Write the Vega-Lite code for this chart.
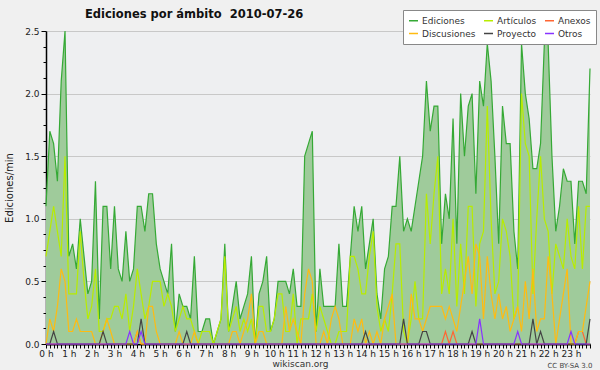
{
"$schema":"https://vega.github.io/schema/vega-lite/v6.json",
"width":544,"height":313,
"autosize":{"type":"none"},
"padding":{"left":46,"top":31,"right":10,"bottom":26},
"background":"#f0f0f0",
"title":{"text":"Ediciones por ámbito\u00a0 2010-07-26","anchor":"start","frame":"group","dx":39,"dy":20,"offset":9,"fontSize":11.5,"fontWeight":"bold","font":"DejaVu Sans","color":"#111111"},
"config":{"view":{"fill":"#eeeff1","stroke":null},"font":"DejaVu Sans"},
"data":{"values":[
{"s":0,"Ediciones":1.1,"Artículos":0.7,"Anexos":0,"Discusiones":0,"Proyecto":0,"Otros":0},
{"s":1,"Ediciones":1.7,"Artículos":0.9,"Anexos":0,"Discusiones":0.2,"Proyecto":0,"Otros":0},
{"s":2,"Ediciones":1.6,"Artículos":1.1,"Anexos":0,"Discusiones":0.1,"Proyecto":0.1,"Otros":0},
{"s":3,"Ediciones":1.3,"Artículos":0.9,"Anexos":0,"Discusiones":0.3,"Proyecto":0,"Otros":0},
{"s":4,"Ediciones":2.1,"Artículos":0.7,"Anexos":0,"Discusiones":0.6,"Proyecto":0,"Otros":0},
{"s":5,"Ediciones":2.5,"Artículos":1.5,"Anexos":0,"Discusiones":0.5,"Proyecto":0,"Otros":0},
{"s":6,"Ediciones":0.7,"Artículos":0.4,"Anexos":0,"Discusiones":0.1,"Proyecto":0,"Otros":0},
{"s":7,"Ediciones":0.8,"Artículos":0.4,"Anexos":0,"Discusiones":0.1,"Proyecto":0,"Otros":0},
{"s":8,"Ediciones":0.6,"Artículos":0.4,"Anexos":0,"Discusiones":0.2,"Proyecto":0,"Otros":0},
{"s":9,"Ediciones":1.0,"Artículos":0.9,"Anexos":0,"Discusiones":0.1,"Proyecto":0,"Otros":0},
{"s":10,"Ediciones":0.7,"Artículos":0.5,"Anexos":0,"Discusiones":0.1,"Proyecto":0,"Otros":0},
{"s":11,"Ediciones":0.4,"Artículos":0.2,"Anexos":0,"Discusiones":0.1,"Proyecto":0,"Otros":0},
{"s":12,"Ediciones":0.5,"Artículos":0.3,"Anexos":0,"Discusiones":0.1,"Proyecto":0,"Otros":0},
{"s":13,"Ediciones":1.3,"Artículos":0.6,"Anexos":0,"Discusiones":0,"Proyecto":0,"Otros":0},
{"s":14,"Ediciones":0.2,"Artículos":0.1,"Anexos":0,"Discusiones":0,"Proyecto":0,"Otros":0},
{"s":15,"Ediciones":1.1,"Artículos":0.1,"Anexos":0,"Discusiones":0.1,"Proyecto":0.1,"Otros":0},
{"s":16,"Ediciones":1.1,"Artículos":0.2,"Anexos":0,"Discusiones":0.2,"Proyecto":0,"Otros":0},
{"s":17,"Ediciones":0.6,"Artículos":0.2,"Anexos":0,"Discusiones":0.1,"Proyecto":0,"Otros":0},
{"s":18,"Ediciones":1.1,"Artículos":0.3,"Anexos":0,"Discusiones":0,"Proyecto":0,"Otros":0},
{"s":19,"Ediciones":0.6,"Artículos":0.3,"Anexos":0,"Discusiones":0,"Proyecto":0,"Otros":0},
{"s":20,"Ediciones":0.5,"Artículos":0.2,"Anexos":0,"Discusiones":0,"Proyecto":0,"Otros":0},
{"s":21,"Ediciones":0.9,"Artículos":0.4,"Anexos":0,"Discusiones":0,"Proyecto":0,"Otros":0},
{"s":22,"Ediciones":0.5,"Artículos":0.1,"Anexos":0,"Discusiones":0,"Proyecto":0,"Otros":0.1},
{"s":23,"Ediciones":0.6,"Artículos":0.3,"Anexos":0,"Discusiones":0,"Proyecto":0,"Otros":0},
{"s":24,"Ediciones":1.1,"Artículos":0.6,"Anexos":0.1,"Discusiones":0.1,"Proyecto":0,"Otros":0},
{"s":25,"Ediciones":1.1,"Artículos":0.4,"Anexos":0,"Discusiones":0,"Proyecto":0.2,"Otros":0.1},
{"s":26,"Ediciones":0.9,"Artículos":0.2,"Anexos":0,"Discusiones":0,"Proyecto":0,"Otros":0},
{"s":27,"Ediciones":1.2,"Artículos":0.3,"Anexos":0,"Discusiones":0.3,"Proyecto":0,"Otros":0},
{"s":28,"Ediciones":1.2,"Artículos":0.5,"Anexos":0,"Discusiones":0.3,"Proyecto":0,"Otros":0},
{"s":29,"Ediciones":0.8,"Artículos":0.5,"Anexos":0,"Discusiones":0.1,"Proyecto":0,"Otros":0},
{"s":30,"Ediciones":0.6,"Artículos":0.5,"Anexos":0,"Discusiones":0,"Proyecto":0,"Otros":0},
{"s":31,"Ediciones":0.5,"Artículos":0.3,"Anexos":0,"Discusiones":0,"Proyecto":0,"Otros":0},
{"s":32,"Ediciones":0.4,"Artículos":0.4,"Anexos":0,"Discusiones":0,"Proyecto":0,"Otros":0},
{"s":33,"Ediciones":0.8,"Artículos":0.3,"Anexos":0,"Discusiones":0,"Proyecto":0,"Otros":0},
{"s":34,"Ediciones":0.1,"Artículos":0.1,"Anexos":0,"Discusiones":0,"Proyecto":0,"Otros":0},
{"s":35,"Ediciones":0.4,"Artículos":0.2,"Anexos":0,"Discusiones":0.1,"Proyecto":0,"Otros":0},
{"s":36,"Ediciones":0.3,"Artículos":0.3,"Anexos":0,"Discusiones":0,"Proyecto":0,"Otros":0},
{"s":37,"Ediciones":0.3,"Artículos":0.2,"Anexos":0,"Discusiones":0,"Proyecto":0.1,"Otros":0},
{"s":38,"Ediciones":0.2,"Artículos":0.2,"Anexos":0,"Discusiones":0,"Proyecto":0,"Otros":0},
{"s":39,"Ediciones":0.7,"Artículos":0.1,"Anexos":0,"Discusiones":0.1,"Proyecto":0,"Otros":0},
{"s":40,"Ediciones":0.1,"Artículos":0,"Anexos":0,"Discusiones":0,"Proyecto":0,"Otros":0},
{"s":41,"Ediciones":0.1,"Artículos":0.1,"Anexos":0,"Discusiones":0,"Proyecto":0,"Otros":0},
{"s":42,"Ediciones":0.2,"Artículos":0.1,"Anexos":0,"Discusiones":0,"Proyecto":0,"Otros":0},
{"s":43,"Ediciones":0.2,"Artículos":0.1,"Anexos":0,"Discusiones":0,"Proyecto":0,"Otros":0},
{"s":44,"Ediciones":0,"Artículos":0,"Anexos":0,"Discusiones":0,"Proyecto":0,"Otros":0},
{"s":45,"Ediciones":0.1,"Artículos":0.1,"Anexos":0,"Discusiones":0,"Proyecto":0,"Otros":0},
{"s":46,"Ediciones":0.2,"Artículos":0.2,"Anexos":0,"Discusiones":0,"Proyecto":0,"Otros":0},
{"s":47,"Ediciones":0.8,"Artículos":0.7,"Anexos":0,"Discusiones":0,"Proyecto":0,"Otros":0},
{"s":48,"Ediciones":0.1,"Artículos":0.1,"Anexos":0,"Discusiones":0,"Proyecto":0,"Otros":0},
{"s":49,"Ediciones":0.3,"Artículos":0.2,"Anexos":0,"Discusiones":0.1,"Proyecto":0,"Otros":0},
{"s":50,"Ediciones":0.5,"Artículos":0.3,"Anexos":0,"Discusiones":0.1,"Proyecto":0,"Otros":0},
{"s":51,"Ediciones":0.2,"Artículos":0.1,"Anexos":0,"Discusiones":0,"Proyecto":0,"Otros":0},
{"s":52,"Ediciones":0.3,"Artículos":0.2,"Anexos":0,"Discusiones":0.1,"Proyecto":0,"Otros":0},
{"s":53,"Ediciones":0.4,"Artículos":0.1,"Anexos":0,"Discusiones":0.2,"Proyecto":0,"Otros":0},
{"s":54,"Ediciones":0.7,"Artículos":0.2,"Anexos":0,"Discusiones":0.4,"Proyecto":0,"Otros":0},
{"s":55,"Ediciones":0,"Artículos":0,"Anexos":0,"Discusiones":0,"Proyecto":0,"Otros":0},
{"s":56,"Ediciones":0.4,"Artículos":0.3,"Anexos":0,"Discusiones":0.1,"Proyecto":0,"Otros":0},
{"s":57,"Ediciones":0.5,"Artículos":0.3,"Anexos":0,"Discusiones":0.1,"Proyecto":0,"Otros":0},
{"s":58,"Ediciones":0.7,"Artículos":0.1,"Anexos":0,"Discusiones":0,"Proyecto":0,"Otros":0},
{"s":59,"Ediciones":0.1,"Artículos":0.1,"Anexos":0,"Discusiones":0,"Proyecto":0,"Otros":0},
{"s":60,"Ediciones":0.2,"Artículos":0.2,"Anexos":0,"Discusiones":0,"Proyecto":0,"Otros":0},
{"s":61,"Ediciones":0.5,"Artículos":0.4,"Anexos":0,"Discusiones":0,"Proyecto":0,"Otros":0},
{"s":62,"Ediciones":0.5,"Artículos":0.4,"Anexos":0,"Discusiones":0,"Proyecto":0,"Otros":0},
{"s":63,"Ediciones":0.5,"Artículos":0.1,"Anexos":0,"Discusiones":0.3,"Proyecto":0,"Otros":0},
{"s":64,"Ediciones":0.4,"Artículos":0.1,"Anexos":0,"Discusiones":0.1,"Proyecto":0,"Otros":0},
{"s":65,"Ediciones":0.6,"Artículos":0.4,"Anexos":0,"Discusiones":0.2,"Proyecto":0,"Otros":0},
{"s":66,"Ediciones":0.3,"Artículos":0,"Anexos":0,"Discusiones":0.1,"Proyecto":0,"Otros":0},
{"s":67,"Ediciones":0.3,"Artículos":0.2,"Anexos":0,"Discusiones":0,"Proyecto":0,"Otros":0},
{"s":68,"Ediciones":1.5,"Artículos":0.2,"Anexos":0,"Discusiones":0.4,"Proyecto":0,"Otros":0},
{"s":69,"Ediciones":1.6,"Artículos":0.2,"Anexos":0,"Discusiones":0.6,"Proyecto":0,"Otros":0},
{"s":70,"Ediciones":1.7,"Artículos":0.4,"Anexos":0,"Discusiones":0.5,"Proyecto":0,"Otros":0},
{"s":71,"Ediciones":0.1,"Artículos":0.1,"Anexos":0,"Discusiones":0,"Proyecto":0,"Otros":0},
{"s":72,"Ediciones":0.6,"Artículos":0.3,"Anexos":0,"Discusiones":0,"Proyecto":0,"Otros":0},
{"s":73,"Ediciones":0.3,"Artículos":0.2,"Anexos":0,"Discusiones":0.1,"Proyecto":0,"Otros":0},
{"s":74,"Ediciones":0.3,"Artículos":0.1,"Anexos":0,"Discusiones":0,"Proyecto":0,"Otros":0},
{"s":75,"Ediciones":0.3,"Artículos":0,"Anexos":0,"Discusiones":0.2,"Proyecto":0,"Otros":0},
{"s":76,"Ediciones":0.3,"Artículos":0,"Anexos":0,"Discusiones":0.3,"Proyecto":0,"Otros":0},
{"s":77,"Ediciones":0.8,"Artículos":0.1,"Anexos":0,"Discusiones":0.2,"Proyecto":0,"Otros":0},
{"s":78,"Ediciones":0.3,"Artículos":0.1,"Anexos":0,"Discusiones":0,"Proyecto":0,"Otros":0},
{"s":79,"Ediciones":0.3,"Artículos":0.1,"Anexos":0,"Discusiones":0,"Proyecto":0,"Otros":0},
{"s":80,"Ediciones":0.7,"Artículos":0.7,"Anexos":0,"Discusiones":0,"Proyecto":0,"Otros":0},
{"s":81,"Ediciones":1.1,"Artículos":0.7,"Anexos":0,"Discusiones":0.2,"Proyecto":0,"Otros":0},
{"s":82,"Ediciones":0.9,"Artículos":0.6,"Anexos":0,"Discusiones":0.1,"Proyecto":0,"Otros":0},
{"s":83,"Ediciones":1.1,"Artículos":0.4,"Anexos":0,"Discusiones":0.2,"Proyecto":0,"Otros":0},
{"s":84,"Ediciones":0.6,"Artículos":0.4,"Anexos":0,"Discusiones":0,"Proyecto":0.1,"Otros":0},
{"s":85,"Ediciones":0.8,"Artículos":0.7,"Anexos":0,"Discusiones":0.1,"Proyecto":0,"Otros":0},
{"s":86,"Ediciones":1.0,"Artículos":0.9,"Anexos":0,"Discusiones":0,"Proyecto":0,"Otros":0},
{"s":87,"Ediciones":0.4,"Artículos":0.3,"Anexos":0,"Discusiones":0.1,"Proyecto":0,"Otros":0},
{"s":88,"Ediciones":0.2,"Artículos":0.1,"Anexos":0,"Discusiones":0,"Proyecto":0,"Otros":0},
{"s":89,"Ediciones":0.6,"Artículos":0.2,"Anexos":0,"Discusiones":0.2,"Proyecto":0,"Otros":0},
{"s":90,"Ediciones":0.7,"Artículos":0.1,"Anexos":0,"Discusiones":0.3,"Proyecto":0,"Otros":0},
{"s":91,"Ediciones":1.1,"Artículos":0.4,"Anexos":0,"Discusiones":0.4,"Proyecto":0,"Otros":0},
{"s":92,"Ediciones":1.1,"Artículos":0.8,"Anexos":0,"Discusiones":0,"Proyecto":0,"Otros":0},
{"s":93,"Ediciones":1.5,"Artículos":0.8,"Anexos":0,"Discusiones":0,"Proyecto":0,"Otros":0},
{"s":94,"Ediciones":0.9,"Artículos":0.1,"Anexos":0,"Discusiones":0,"Proyecto":0.2,"Otros":0},
{"s":95,"Ediciones":1.0,"Artículos":0,"Anexos":0,"Discusiones":0,"Proyecto":0,"Otros":0},
{"s":96,"Ediciones":0.9,"Artículos":0.2,"Anexos":0,"Discusiones":0.4,"Proyecto":0,"Otros":0},
{"s":97,"Ediciones":1.1,"Artículos":0.5,"Anexos":0,"Discusiones":0.2,"Proyecto":0,"Otros":0},
{"s":98,"Ediciones":1.3,"Artículos":0.2,"Anexos":0,"Discusiones":0.2,"Proyecto":0,"Otros":0},
{"s":99,"Ediciones":1.5,"Artículos":0.2,"Anexos":0,"Discusiones":0.1,"Proyecto":0.1,"Otros":0},
{"s":100,"Ediciones":2.1,"Artículos":1.2,"Anexos":0,"Discusiones":0.2,"Proyecto":0.1,"Otros":0},
{"s":101,"Ediciones":1.7,"Artículos":0.8,"Anexos":0,"Discusiones":0.3,"Proyecto":0,"Otros":0},
{"s":102,"Ediciones":1.9,"Artículos":1.2,"Anexos":0,"Discusiones":0.3,"Proyecto":0,"Otros":0},
{"s":103,"Ediciones":1.9,"Artículos":1.5,"Anexos":0,"Discusiones":0.3,"Proyecto":0,"Otros":0},
{"s":104,"Ediciones":0.8,"Artículos":0.4,"Anexos":0,"Discusiones":0.3,"Proyecto":0,"Otros":0},
{"s":105,"Ediciones":1.2,"Artículos":0.6,"Anexos":0.1,"Discusiones":0.2,"Proyecto":0,"Otros":0},
{"s":106,"Ediciones":1.0,"Artículos":0.4,"Anexos":0,"Discusiones":0.3,"Proyecto":0,"Otros":0},
{"s":107,"Ediciones":1.8,"Artículos":1.0,"Anexos":0.1,"Discusiones":0.2,"Proyecto":0,"Otros":0},
{"s":108,"Ediciones":0.8,"Artículos":0.3,"Anexos":0,"Discusiones":0.1,"Proyecto":0,"Otros":0},
{"s":109,"Ediciones":2.0,"Artículos":0.8,"Anexos":0,"Discusiones":0.3,"Proyecto":0,"Otros":0},
{"s":110,"Ediciones":1.5,"Artículos":0.4,"Anexos":0,"Discusiones":0.5,"Proyecto":0,"Otros":0},
{"s":111,"Ediciones":1.9,"Artículos":1.1,"Anexos":0,"Discusiones":0.7,"Proyecto":0,"Otros":0},
{"s":112,"Ediciones":2.0,"Artículos":1.1,"Anexos":0,"Discusiones":0.4,"Proyecto":0.1,"Otros":0},
{"s":113,"Ediciones":1.2,"Artículos":0.3,"Anexos":0,"Discusiones":0.8,"Proyecto":0,"Otros":0},
{"s":114,"Ediciones":2.1,"Artículos":0.8,"Anexos":0,"Discusiones":0.7,"Proyecto":0,"Otros":0.2},
{"s":115,"Ediciones":1.9,"Artículos":0.9,"Anexos":0,"Discusiones":0.2,"Proyecto":0,"Otros":0},
{"s":116,"Ediciones":2.4,"Artículos":1.9,"Anexos":0,"Discusiones":0.7,"Proyecto":0,"Otros":0},
{"s":117,"Ediciones":2.1,"Artículos":1.0,"Anexos":0,"Discusiones":0.4,"Proyecto":0,"Otros":0},
{"s":118,"Ediciones":1.5,"Artículos":0.4,"Anexos":0,"Discusiones":0.2,"Proyecto":0,"Otros":0},
{"s":119,"Ediciones":0.8,"Artículos":0.5,"Anexos":0,"Discusiones":0.4,"Proyecto":0,"Otros":0},
{"s":120,"Ediciones":1.9,"Artículos":1.0,"Anexos":0,"Discusiones":0.2,"Proyecto":0,"Otros":0},
{"s":121,"Ediciones":1.6,"Artículos":0.9,"Anexos":0,"Discusiones":0.3,"Proyecto":0,"Otros":0},
{"s":122,"Ediciones":1.6,"Artículos":0.7,"Anexos":0,"Discusiones":0.1,"Proyecto":0,"Otros":0},
{"s":123,"Ediciones":0.9,"Artículos":0.2,"Anexos":0,"Discusiones":0.2,"Proyecto":0,"Otros":0},
{"s":124,"Ediciones":0.6,"Artículos":0.3,"Anexos":0,"Discusiones":0.3,"Proyecto":0,"Otros":0.1},
{"s":125,"Ediciones":2.4,"Artículos":2.0,"Anexos":0,"Discusiones":0.1,"Proyecto":0,"Otros":0},
{"s":126,"Ediciones":2.0,"Artículos":1.6,"Anexos":0,"Discusiones":0.5,"Proyecto":0,"Otros":0},
{"s":127,"Ediciones":1.8,"Artículos":1.5,"Anexos":0,"Discusiones":0.2,"Proyecto":0,"Otros":0},
{"s":128,"Ediciones":1.4,"Artículos":0.4,"Anexos":0,"Discusiones":0.6,"Proyecto":0.2,"Otros":0},
{"s":129,"Ediciones":1.4,"Artículos":1.0,"Anexos":0,"Discusiones":0.1,"Proyecto":0,"Otros":0},
{"s":130,"Ediciones":1.6,"Artículos":1.5,"Anexos":0,"Discusiones":0.2,"Proyecto":0.1,"Otros":0},
{"s":131,"Ediciones":2.4,"Artículos":1.0,"Anexos":0,"Discusiones":0.2,"Proyecto":0,"Otros":0},
{"s":132,"Ediciones":2.4,"Artículos":0.9,"Anexos":0,"Discusiones":0.7,"Proyecto":0,"Otros":0},
{"s":133,"Ediciones":1.5,"Artículos":0.4,"Anexos":0,"Discusiones":0.4,"Proyecto":0,"Otros":0},
{"s":134,"Ediciones":0.9,"Artículos":0.8,"Anexos":0,"Discusiones":0,"Proyecto":0,"Otros":0},
{"s":135,"Ediciones":1.1,"Artículos":0.7,"Anexos":0,"Discusiones":0.2,"Proyecto":0,"Otros":0},
{"s":136,"Ediciones":1.4,"Artículos":0.6,"Anexos":0,"Discusiones":0.4,"Proyecto":0,"Otros":0},
{"s":137,"Ediciones":1.3,"Artículos":1.0,"Anexos":0,"Discusiones":0.6,"Proyecto":0,"Otros":0},
{"s":138,"Ediciones":1.3,"Artículos":0.7,"Anexos":0,"Discusiones":0,"Proyecto":0,"Otros":0.1},
{"s":139,"Ediciones":0.8,"Artículos":0.6,"Anexos":0,"Discusiones":0,"Proyecto":0,"Otros":0},
{"s":140,"Ediciones":1.3,"Artículos":1.1,"Anexos":0.1,"Discusiones":0.1,"Proyecto":0,"Otros":0},
{"s":141,"Ediciones":1.3,"Artículos":0.6,"Anexos":0.1,"Discusiones":0.1,"Proyecto":0,"Otros":0},
{"s":142,"Ediciones":1.2,"Artículos":1.1,"Anexos":0,"Discusiones":0.3,"Proyecto":0,"Otros":0},
{"s":143,"Ediciones":2.2,"Artículos":1.1,"Anexos":0,"Discusiones":0.5,"Proyecto":0.2,"Otros":0}
]},
"transform":[{"fold":["Ediciones","Artículos","Anexos","Discusiones","Proyecto","Otros"],"as":["serie","v"]}],
"layer":[
{"encoding":{
"x":{"field":"s","type":"quantitative","scale":{"domain":[0,143],"nice":false,"zero":false},"title":"wikiscan.org",
"axis":{"values":[0,1,2,3,4,5,6,7,8,9,10,11,12,13,14,15,16,17,18,19,20,21,22,23,24,25,26,27,28,29,30,31,32,33,34,35,36,37,38,39,40,41,42,43,44,45,46,47,48,49,50,51,52,53,54,55,56,57,58,59,60,61,62,63,64,65,66,67,68,69,70,71,72,73,74,75,76,77,78,79,80,81,82,83,84,85,86,87,88,89,90,91,92,93,94,95,96,97,98,99,100,101,102,103,104,105,106,107,108,109,110,111,112,113,114,115,116,117,118,119,120,121,122,123,124,125,126,127,128,129,130,131,132,133,134,135,136,137,138,139,140,141,142,143],
"labelExpr":"datum.value % 6 === 0 ? (datum.value / 6) + ' h' : ''","labelOverlap":false,"labelFlush":false,"labelBound":false,
"grid":false,"tickSize":4,"tickColor":"#000000","tickWidth":1,"domainColor":"#000000","domainWidth":2,
"labelFontSize":9,"labelPadding":1,"labelColor":"#222222","titleFontSize":9,"titleFontWeight":"normal","titleColor":"#333333","titleX":254,"titleY":22,"titleAlign":"center","titleBaseline":"alphabetic"}},
"y":{"field":"v","type":"quantitative","scale":{"domain":[0,2.5],"nice":false},"title":"Ediciones/min",
"axis":{"values":[0,0.125,0.25,0.375,0.5,0.625,0.75,0.875,1,1.125,1.25,1.375,1.5,1.625,1.75,1.875,2,2.125,2.25,2.375,2.5],
"labelExpr":"datum.value % 0.5 === 0 ? format(datum.value, '.1f') : ''","labelOverlap":false,"labelFlush":false,
"gridColor":{"condition":{"test":"datum.value % 0.5 === 0 && datum.value > 0","value":"#c8c8c8"},"value":"transparent"},
"tickSize":{"condition":{"test":"datum.value % 0.5 === 0","value":5},"value":3},"tickColor":"#000000","domainColor":"#000000","domainWidth":1.5,
"labelFontSize":9,"labelPadding":2,"labelColor":"#222222","titleFontSize":10,"titleFontWeight":"normal","titleColor":"#222222","titlePadding":10}}},
"layer":[
{"transform":[{"filter":"datum.serie === 'Ediciones'"}],"mark":{"type":"area","color":"#9fcb9b","opacity":1}},
{"mark":{"type":"line","strokeWidth":1.2},
"encoding":{"color":{"field":"serie","type":"nominal",
"scale":{"domain":["Ediciones","Artículos","Anexos","Discusiones","Proyecto","Otros"],"range":["#35a935","#b8ec00","#ff6633","#ffbb11","#444444","#8833ff"]},
"legend":{"title":null,"orient":"none","legendX":357,"legendY":-21,"direction":"horizontal","columns":3,"symbolType":"stroke","symbolSize":81,"symbolStrokeWidth":1.5,"labelFontSize":9,"labelColor":"#333333","rowPadding":2,"columnPadding":5,"labelOffset":3,"padding":5,"fillColor":"#ffffff","strokeColor":"#888888"}}}}
]},
{"mark":{"type":"point","opacity":0},
"encoding":{"x":{"field":"s","type":"quantitative","title":"CC BY-SA 3.0",
"axis":{"orient":"bottom","labels":false,"ticks":false,"domain":false,"grid":false,"titleFontSize":7,"titleFontWeight":"normal","titleColor":"#444444","titleX":546,"titleY":23,"titleAlign":"right","titleBaseline":"alphabetic"}}}}
],
"resolve":{"axis":{"x":"independent"}}
}
